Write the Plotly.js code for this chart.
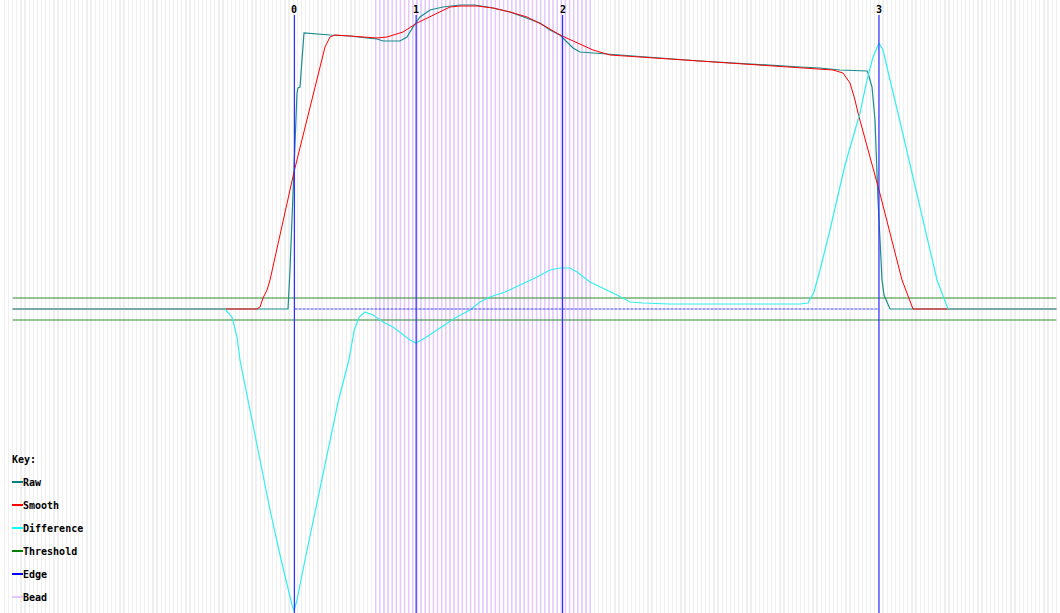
<!DOCTYPE html>
<html>
<head>
<meta charset="utf-8">
<script src="https://cdn.plot.ly/plotly-3.0.1.min.js"></script>
<style>html,body{margin:0;padding:0;background:#fff;}#chart{width:1060px;height:613px;}</style>
</head>
<body>
<div id="chart"></div>
<script>
// ---- data (sample index along the profile, signal value) ----
const nSamples = 254;
const rawX = [0, 66.74, 67.22, 68.68, 68.92, 69.16, 69.65, 70.13, 70.62, 76.92, 81.77, 85.89, 88.32, 89.77, 93.89, 95.59, 97.04, 98.74, 101.16, 104.32, 106.01, 108.44, 112.07, 116.44, 120.56, 124.68, 127.83, 130.25, 132.68, 134.38, 135.83, 137.53, 140.68, 144.80, 166.62, 190.86, 195.71, 200.56, 207.10, 207.35, 208.32, 209.04, 209.77, 210.74, 211.22, 212.68, 253];
const rawY = [0, 0, 39, 189, 216, 221, 222, 249, 276, 274, 273, 271, 270, 268, 268, 272, 282, 292, 299, 302, 303, 304, 304, 301, 297, 291, 286, 279, 274, 267, 261, 257, 256, 255, 248, 242, 241, 239, 238, 236, 222, 189, 109, 29, 14, 0, 0];

const smoothX = [0, 59.22, 59.95, 60.68, 61.65, 62.38, 68.19, 71.35, 72.80, 74.50, 75.71, 76.92, 78.13, 81.77, 85.89, 88.32, 90.74, 93.89, 94.62, 98.01, 101.16, 103.59, 106.01, 108.44, 112.56, 116.44, 120.56, 124.68, 128.56, 132.68, 136.80, 140.68, 144.80, 166.62, 190.86, 198.86, 201.28, 202.98, 204.19, 204.92, 210.01, 215.59, 218.25, 253];
const smoothY = [0, 0, 2, 11, 19, 29, 137, 189, 212, 242, 262, 272, 274, 273, 272, 271, 272, 276, 277, 286, 292, 297, 302, 303, 303, 301, 297, 292, 284, 274, 266, 259, 254, 248, 241, 239, 236, 226, 209, 196, 119, 29, 0, 0];

const diffX = [0, 51.47, 53.16, 54.38, 55.10, 57.53, 59.95, 62.38, 64.80, 66.74, 67.71, 68.19, 68.92, 70.86, 74.90, 79.00, 81.50, 82.80, 84.00, 85.41, 87.35, 89.77, 92.19, 93.89, 96.32, 97.77, 99.95, 103.59, 107.22, 110.86, 113.28, 115.71, 119.35, 122.98, 126.62, 130.25, 132.68, 135.10, 136.80, 139.95, 143.10, 146.50, 149.65, 152.80, 159.35, 166.62, 190.86, 192.80, 194.25, 195.71, 198.13, 201.77, 205.41, 207.10, 208.56, 210.01, 210.98, 212.68, 214.62, 224.07, 226.50, 226.74, 253];
const diffY = [0, 0, -8, -28, -51, -101, -150, -201, -246, -281, -296, -302, -291, -251, -171, -91, -51, -21, -8, -3, -6, -13, -18, -23, -31, -34, -29, -19, -9, -1, 7, 12, 17, 24, 31, 39, 41, 41, 37, 27, 21, 14, 7, 6, 5, 5, 5, 6, 17, 39, 79, 144, 196, 229, 252, 266, 259, 229, 196, 29, 1, 0, 0];

const thresholds = [11, -11];
const edges = [68.3, 97.8, 133.3, 210.0];
const edgeLabels = ['0', '1', '2', '3'];
const beadSamples = [88, 89, 90, 91, 92, 93, 94, 95, 96, 97, 98, 99, 100, 101, 102, 103, 104, 105, 106, 107, 108, 109, 110, 111, 112, 113, 114, 115, 116, 117, 118, 119, 120, 121, 122, 123, 124, 125, 126, 127, 128, 129, 130, 131, 132, 133, 134, 135, 136, 137, 138, 139, 140];

const keyNames = ['Raw', 'Smooth', 'Difference', 'Threshold', 'Edge', 'Bead'];
const keyColors = ['#008080', '#ff0000', '#00ffff', '#008000', '#0000ff', '#e2c8fb'];

// ---- layout constants ----
const W = 1060, H = 613;
const yMin = -304, yMax = 309;
const edgeTop = 294;
const xMin = -3.08, xMax = 253.89;
const FONT = 'DejaVu Sans Mono';

function vlines(xs, y0, y1) {
  const x = [], y = [];
  xs.forEach(v => { x.push(v, v, null); y.push(y0, y1, null); });
  return {x, y};
}

const traces = [];
const bl = vlines(beadSamples, yMin, yMax);
traces.push({x: bl.x, y: bl.y, mode: 'lines', line: {color: keyColors[5], width: 1.5}, hoverinfo: 'skip', showlegend: false});
thresholds.forEach(t => {
  traces.push({x: [0, nSamples - 1], y: [t, t], mode: 'lines', line: {color: '#2e8b2e', width: 1.2}, showlegend: false});
});
traces.push({x: rawX, y: rawY, mode: 'lines', line: {color: '#1a8c8c', width: 1.2}, showlegend: false});
traces.push({x: smoothX, y: smoothY, mode: 'lines', line: {color: keyColors[1], width: 1}, showlegend: false});
traces.push({x: diffX, y: diffY, mode: 'lines', line: {color: '#33eeee', width: 1.2}, showlegend: false});
traces.push({x: [edges[0], edges[edges.length - 1]], y: [0, 0], mode: 'lines', line: {color: '#4040ff', width: 1, dash: '3px,1px'}, showlegend: false});
const el = vlines(edges, yMin, edgeTop);
traces.push({x: el.x, y: el.y, mode: 'lines', line: {color: '#3030ff', width: 1.2}, showlegend: false});

const annotations = [];
edges.forEach((e, k) => {
  annotations.push({x: e, y: 1 - 9 / H, xref: 'x', yref: 'paper', text: '<b>' + edgeLabels[k] + '</b>', showarrow: false,
    xanchor: 'center', yanchor: 'middle', font: {family: FONT, size: 10, color: '#000'}});
});
annotations.push({x: 12 / W, y: 1 - 459 / H, xref: 'paper', yref: 'paper', text: '<b>Key:</b>', showarrow: false,
  xanchor: 'left', yanchor: 'middle', xshift: -2, font: {family: FONT, size: 10, color: '#000'}});
const shapes = [];
keyNames.forEach((n, k) => {
  const py = 482 + 23 * k;
  annotations.push({x: 23 / W, y: 1 - py / H, xref: 'paper', yref: 'paper', text: '<b>' + n + '</b>', showarrow: false,
    xanchor: 'left', yanchor: 'middle', xshift: -2, font: {family: FONT, size: 10, color: '#000'}});
  shapes.push({type: 'line', xref: 'paper', yref: 'paper', x0: 12 / W, x1: 23 / W, y0: 1 - py / H, y1: 1 - py / H,
    line: {color: keyColors[k], width: 2}});
});

const layout = {
  width: W, height: H,
  margin: {l: 0, r: 0, t: 0, b: 0, pad: 0},
  paper_bgcolor: '#fff', plot_bgcolor: '#fff',
  showlegend: false,
  xaxis: {range: [xMin, xMax], showgrid: true, gridcolor: '#efefef', gridwidth: 1.3, dtick: 1, tick0: 0,
    showticklabels: false, ticks: '', zeroline: false, showline: false},
  yaxis: {range: [yMin, yMax], showgrid: false, showticklabels: false, ticks: '', zeroline: false, showline: false},
  annotations, shapes
};
Plotly.newPlot('chart', traces, layout, {staticPlot: true, displayModeBar: false});
</script>
</body>
</html>
